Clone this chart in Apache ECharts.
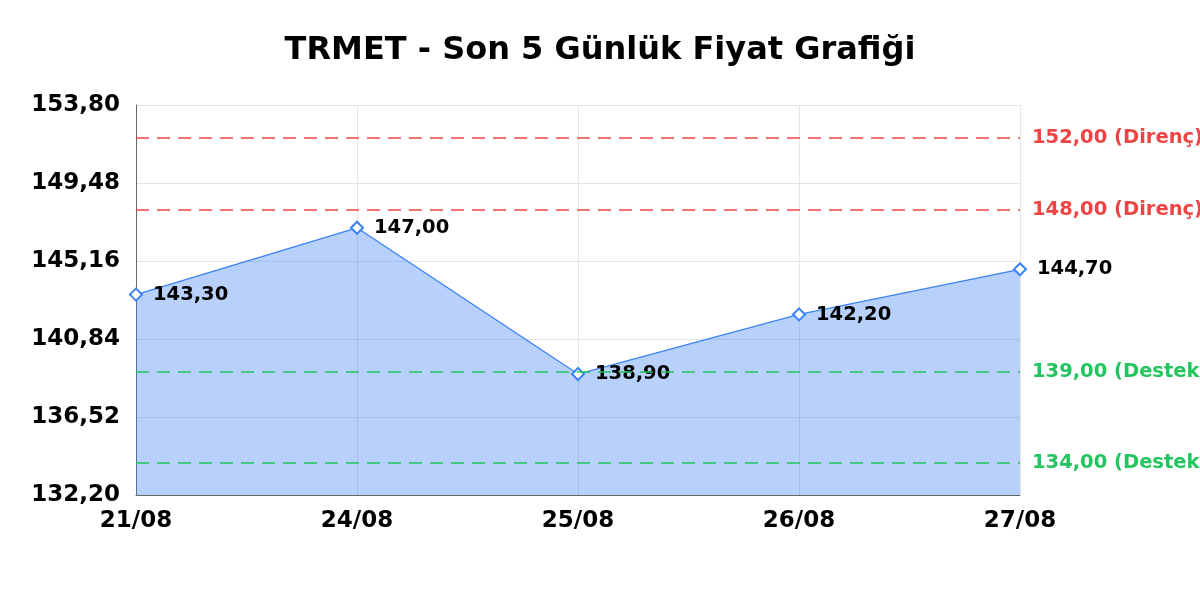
<!DOCTYPE html>
<html>
<head>
<meta charset="utf-8">
<script src="https://cdn.jsdelivr.net/npm/echarts@6/dist/echarts.min.js"></script>
<style>
  html, body { margin: 0; padding: 0; background: #fff; }
  #chart { width: 1200px; height: 600px; }
</style>
</head>
<body>
<div id="chart"></div>
<script>
const dates = ['21/08', '24/08', '25/08', '26/08', '27/08'];
const prices = [143.30, 147.00, 138.90, 142.20, 144.70];
const resistance = [152.00, 148.00];
const support = [139.00, 134.00];

const FONT = 'DejaVu Sans';
const RED = '#ef4444';
const GREEN = '#22c55e';
const fmt = v => Number(v).toFixed(2).replace('.', ',');

const myChart = echarts.init(document.getElementById('chart'));

// helper: an invisible series that only carries horizontal level lines
function levelSeries(values, color, word) {
    return {
        type: 'line',
        data: [],
        symbol: 'none',
        silent: true,
        lineStyle: { opacity: 0 },
        markLine: {
            silent: true,
            symbol: 'none',
            lineStyle: { color: color, type: [13, 8], width: 1.5 },
            label: {
                position: 'end', distance: 12, color: color,
                fontFamily: FONT, fontSize: 19.5, fontWeight: 'bold',
                formatter: p => fmt(p.value) + ' (' + word + ')'
            },
            data: values.map(v => ({ yAxis: v }))
        }
    };
}

const option = {
    animation: false,
    title: {
        text: 'TRMET - Son 5 Günlük Fiyat Grafiği',
        left: 'center',
        top: 30,
        textStyle: { fontFamily: FONT, fontSize: 32, fontWeight: 'bold', color: '#000' }
    },
    grid: { left: 136, right: 180, top: 105, bottom: 105 },
    xAxis: {
        type: 'category',
        boundaryGap: false,
        data: dates,
        axisLine: { lineStyle: { color: '#666', width: 1 } },
        axisTick: { show: false },
        axisLabel: { fontFamily: FONT, fontSize: 23, fontWeight: 'bold', color: '#000', margin: 15 },
        splitLine: { show: true, lineStyle: { color: '#e5e5e5' } }
    },
    yAxis: {
        type: 'value',
        min: 132.2,
        max: 153.8,
        interval: 4.32,
        axisLine: { show: true, lineStyle: { color: '#666', width: 1 } },
        axisTick: { show: false },
        axisLabel: { fontFamily: FONT, fontSize: 23, fontWeight: 'bold', color: '#000', margin: 16, formatter: fmt },
        splitLine: { show: true, lineStyle: { color: '#e5e5e5' } }
    },
    series: [
        levelSeries(resistance, RED, 'Direnç'),
        levelSeries(support, GREEN, 'Destek'),
        {
            type: 'line',
            data: prices,
            symbol: 'emptyDiamond',
            symbolSize: 12,
            z: 3,
            lineStyle: { color: '#3b82f6', width: 1.3 },
            itemStyle: { color: '#3b82f6', borderWidth: 2 },
            areaStyle: { color: '#3b82f6', opacity: 0.37, origin: 'start' },
            label: {
                show: true,
                position: 'right',
                distance: 10,
                fontFamily: FONT,
                fontSize: 19.5,
                fontWeight: 'bold',
                color: '#000',
                formatter: p => fmt(p.value)
            }
        }
    ]
};

myChart.setOption(option);
</script>
</body>
</html>
